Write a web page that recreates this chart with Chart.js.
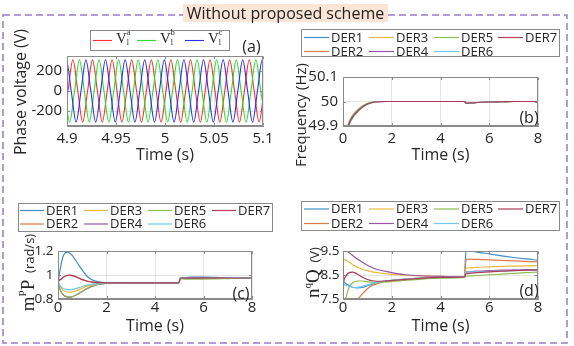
<!DOCTYPE html>
<html>
<head>
<meta charset="utf-8">
<title>Without proposed scheme</title>
<script src="https://cdn.jsdelivr.net/npm/chart.js@4.4.1/dist/chart.umd.min.js"></script>
<style>
  html, body { margin: 0; padding: 0; background: #fff; }
  #page { position: relative; width: 574px; height: 346px; overflow: hidden; }
  #page canvas, #page svg { position: absolute; }
  #heading {
    position: absolute; left: 183px; top: 4px; width: 205px; height: 18px;
    background: #fbe5d6; color: #222; font: 16px/18px "Open Sans", sans-serif;
    text-align: center; white-space: nowrap; z-index: 2;
  }
</style>
</head>
<body>
<div id="page">
  <svg width="574" height="346" style="left:0;top:0">
    <rect x="3" y="15" width="564" height="328" fill="none" stroke="#9b7bc9" stroke-width="1.5" stroke-dasharray="7 4"/>
  </svg>
  <div id="heading">Without proposed scheme</div>
  <canvas id="chartA" width="287" height="170" style="left:0;top:0"></canvas>
  <canvas id="chartB" width="287" height="170" style="left:287px;top:0"></canvas>
  <canvas id="chartC" width="287" height="176" style="left:0;top:170px"></canvas>
  <canvas id="chartD" width="287" height="176" style="left:287px;top:170px"></canvas>
</div>
<script>
/* =========================
   DATA (a) - PHASE VOLTAGE
   one point per peak / zero crossing
========================= */
const phaseLabels = ["V_l^a", "V_l^b", "V_l^c"];

const phaseATime = [
  4.896, 4.901, 4.906, 4.911, 4.916, 4.921, 4.926, 4.931, 4.936, 4.941, 4.946,
  4.951, 4.956, 4.961, 4.966, 4.971, 4.976, 4.981, 4.986, 4.991, 4.996, 5.001,
  5.006, 5.011, 5.016, 5.021, 5.026, 5.031, 5.036, 5.041, 5.046, 5.051, 5.056,
  5.061, 5.066, 5.071, 5.076, 5.081, 5.086, 5.091, 5.096, 5.101, 5.106
];
const phaseBTime = [
  4.8827, 4.8877, 4.8927, 4.8977, 4.9027, 4.9077, 4.9127, 4.9177, 4.9227, 4.9277,
  4.9327, 4.9377, 4.9427, 4.9477, 4.9527, 4.9577, 4.9627, 4.9677, 4.9727, 4.9777,
  4.9827, 4.9877, 4.9927, 4.9977, 5.0027, 5.0077, 5.0127, 5.0177, 5.0227, 5.0277,
  5.0327, 5.0377, 5.0427, 5.0477, 5.0527, 5.0577, 5.0627, 5.0677, 5.0727, 5.0777,
  5.0827, 5.0877, 5.0927, 5.0977, 5.1027
];
const phaseCTime = [
  4.8893, 4.8943, 4.8993, 4.9043, 4.9093, 4.9143, 4.9193, 4.9243, 4.9293, 4.9343,
  4.9393, 4.9443, 4.9493, 4.9543, 4.9593, 4.9643, 4.9693, 4.9743, 4.9793, 4.9843,
  4.9893, 4.9943, 4.9993, 5.0043, 5.0093, 5.0143, 5.0193, 5.0243, 5.0293, 5.0343,
  5.0393, 5.0443, 5.0493, 5.0543, 5.0593, 5.0643, 5.0693, 5.0743, 5.0793, 5.0843,
  5.0893, 5.0943, 5.0993, 5.1043
];
// every phase list starts on a trough
const phaseVolt = [
  -311, 0, 311, 0, -311, 0, 311, 0, -311, 0, 311, 0,
  -311, 0, 311, 0, -311, 0, 311, 0, -311, 0, 311, 0,
  -311, 0, 311, 0, -311, 0, 311, 0, -311, 0, 311, 0,
  -311, 0, 311, 0, -311, 0, 311, 0, -311
];
const phaseTicks = [4.9, 4.95, 5, 5.05, 5.1];
const phaseTickLabels = ["4.9", "4.95", "5", "5.05", "5.1"];
const voltTicks = [-200, 0, 200];
const voltTickLabels = ["-200", "0", "200"];

/* =========================
   DATA (b)-(d) - DER RESPONSES
========================= */
const derNames = ["DER1", "DER2", "DER3", "DER4", "DER5", "DER6", "DER7"];
const simTime = [0, 0.02, 0.1, 0.2, 0.3, 0.4, 0.5, 0.6, 0.8, 1, 1.2, 1.4, 1.7, 2, 2.5, 3, 4, 4.98, 5.05, 5.2, 5.5, 6, 6.5, 7, 7.5, 8];
const timeTicks = [0, 2, 4, 6, 8];
const timeTickLabels = ["0", "2", "4", "6", "8"];

// frequency (Hz)
const freqDER1 = [50, 49.8, 49.855, 49.892, 49.916, 49.934, 49.947, 49.958, 49.976, 49.989, 49.996, 49.999, 50, 50, 50, 50, 50, 50, 49.993, 49.994, 49.996, 49.998, 49.999, 50, 50, 50];
const freqDER2 = [50, 49.8, 49.858, 49.896, 49.92, 49.938, 49.95, 49.961, 49.978, 49.99, 49.996, 49.999, 50, 50, 50, 50, 50, 50, 49.993, 49.994, 49.996, 49.998, 49.999, 50, 50, 50];
const freqDER3 = [50, 49.8, 49.862, 49.9, 49.924, 49.941, 49.953, 49.963, 49.98, 49.991, 49.997, 49.999, 50, 50, 50, 50, 50, 50, 49.993, 49.994, 49.996, 49.998, 49.999, 50, 50, 50];
const freqDER4 = [50, 49.8, 49.86, 49.898, 49.922, 49.939, 49.951, 49.962, 49.979, 49.99, 49.996, 49.999, 50, 50, 50, 50, 50, 50, 49.993, 49.994, 49.996, 49.998, 49.999, 50, 50, 50];
const freqDER5 = [50, 49.8, 49.866, 49.904, 49.928, 49.945, 49.957, 49.967, 49.983, 49.993, 49.998, 50, 50, 50, 50, 50, 50, 50, 49.993, 49.994, 49.996, 49.998, 49.999, 50, 50, 50];
const freqDER6 = [50, 49.8, 49.857, 49.894, 49.918, 49.936, 49.949, 49.96, 49.977, 49.989, 49.996, 49.999, 50, 50, 50, 50, 50, 50, 49.993, 49.994, 49.996, 49.998, 49.999, 50, 50, 50];
const freqDER7 = [50, 49.8, 49.859, 49.897, 49.921, 49.938, 49.95, 49.961, 49.978, 49.99, 49.996, 49.999, 50, 50, 50, 50, 50, 50, 49.993, 49.994, 49.996, 49.998, 49.999, 50, 50, 50];
const freqTicks = [49.9, 50, 50.1];
const freqTickLabels = ["49.9", "50", "50.1"];

// m^P P (rad/s)
const powerDER1 = [0.94, 0.96, 1.06, 1.15, 1.185, 1.19, 1.18, 1.16, 1.1, 1.04, 0.99, 0.96, 0.942, 0.936, 0.935, 0.935, 0.935, 0.935, 0.977, 0.979, 0.982, 0.982, 0.98, 0.978, 0.977, 0.976];
const powerDER2 = [0.94, 0.945, 0.96, 0.978, 0.99, 0.996, 0.997, 0.994, 0.98, 0.963, 0.95, 0.942, 0.937, 0.935, 0.935, 0.935, 0.935, 0.935, 0.975, 0.976, 0.977, 0.977, 0.976, 0.976, 0.975, 0.975];
const powerDER3 = [0.94, 0.93, 0.9, 0.875, 0.862, 0.856, 0.855, 0.858, 0.872, 0.891, 0.907, 0.918, 0.929, 0.934, 0.935, 0.935, 0.935, 0.935, 0.972, 0.973, 0.974, 0.974, 0.975, 0.975, 0.975, 0.975];
const powerDER4 = [0.94, 0.92, 0.87, 0.837, 0.822, 0.816, 0.815, 0.819, 0.838, 0.862, 0.886, 0.905, 0.923, 0.931, 0.935, 0.935, 0.935, 0.935, 0.971, 0.971, 0.972, 0.973, 0.974, 0.974, 0.975, 0.975];
const powerDER5 = [0.94, 0.92, 0.872, 0.84, 0.825, 0.818, 0.817, 0.821, 0.84, 0.865, 0.889, 0.908, 0.925, 0.932, 0.935, 0.935, 0.935, 0.935, 0.968, 0.966, 0.965, 0.966, 0.968, 0.97, 0.972, 0.973];
const powerDER6 = [0.95, 0.94, 0.91, 0.89, 0.882, 0.878, 0.878, 0.88, 0.89, 0.904, 0.916, 0.925, 0.932, 0.935, 0.935, 0.935, 0.935, 0.935, 0.976, 0.978, 0.98, 0.98, 0.979, 0.978, 0.977, 0.976];
const powerDER7 = [0.78, 0.95, 0.963, 0.98, 0.992, 0.998, 0.999, 0.995, 0.979, 0.961, 0.948, 0.94, 0.936, 0.935, 0.935, 0.935, 0.935, 0.935, 0.975, 0.975, 0.976, 0.976, 0.976, 0.975, 0.975, 0.975];
const powerTicks = [0.8, 1, 1.2];
const powerTickLabels = ["0.8", "1", "1.2"];

// n^q Q (V)
const qDER1 = [8.25, 8.22, 8.16, 8.09, 8.03, 7.99, 7.97, 7.96, 7.98, 8.05, 8.12, 8.18, 8.24, 8.28, 8.33, 8.36, 8.4, 8.42, 9.57, 9.52, 9.45, 9.38, 9.3, 9.23, 9.17, 9.12];
const qDER2 = [6.0, 6.2, 6.5, 6.8, 7.05, 7.22, 7.36, 7.48, 7.72, 7.93, 8.06, 8.14, 8.22, 8.27, 8.32, 8.36, 8.4, 8.42, 9.15, 9.16, 9.15, 9.13, 9.11, 9.09, 9.07, 9.05];
const qDER3 = [7.4, 9.15, 9.13, 9.07, 9.0, 8.93, 8.87, 8.82, 8.74, 8.68, 8.63, 8.6, 8.56, 8.53, 8.49, 8.47, 8.44, 8.43, 8.78, 8.8, 8.82, 8.84, 8.86, 8.87, 8.88, 8.89];
const qDER4 = [7.4, 9.55, 9.53, 9.47, 9.39, 9.31, 9.23, 9.16, 9.03, 8.91, 8.81, 8.73, 8.66, 8.6, 8.52, 8.48, 8.44, 8.42, 8.62, 8.64, 8.66, 8.68, 8.7, 8.71, 8.72, 8.73];
const qDER5 = [6.5, 6.8, 7.4, 7.85, 8.07, 8.18, 8.23, 8.25, 8.25, 8.22, 8.2, 8.2, 8.21, 8.23, 8.27, 8.31, 8.37, 8.4, 8.45, 8.46, 8.48, 8.51, 8.54, 8.57, 8.6, 8.62];
const qDER6 = [8.15, 8.12, 8.08, 8.04, 8.01, 7.99, 7.98, 7.99, 8.03, 8.09, 8.15, 8.2, 8.25, 8.28, 8.32, 8.36, 8.4, 8.42, 8.62, 8.63, 8.64, 8.65, 8.67, 8.68, 8.69, 8.7];
const qDER7 = [7.4, 8.1, 8.42, 8.56, 8.61, 8.62, 8.59, 8.53, 8.41, 8.31, 8.26, 8.24, 8.25, 8.27, 8.31, 8.35, 8.4, 8.42, 8.55, 8.57, 8.6, 8.63, 8.66, 8.68, 8.7, 8.71];
const qTicks = [7.5, 8.5, 9.5];
const qTickLabels = ["7.5", "8.5", "9.5"];

/* =========================
   STYLE
========================= */
const SANS = '"Open Sans", sans-serif';
const SERIF = '"Liberation Serif", serif';
const TEXT = "#262626";
const AXIS = "#8a8a8a";
const GRID = "rgba(0,0,0,0.1)";
const phaseColors = ["rgb(255,45,45)", "rgb(40,225,40)", "rgb(45,45,255)"];
const derColors = ["#3d8fcf", "#e07a4a", "#ecb93f", "#9a52a9", "#8cbf4f", "#6ccaf0", "#b23a55"];

Chart.defaults.font.family = SANS;
Chart.defaults.color = TEXT;

/* =========================
   PLUGINS
========================= */
// axes box on all four sides, with short inward ticks
const axisBox = {
  id: "axisBox",
  afterDraw(chart) {
    const { ctx, chartArea: a, scales } = chart;
    const l = Math.round(a.left) + 0.5, r = Math.round(a.right) - 0.5;
    const t = Math.round(a.top) + 0.5, b = Math.round(a.bottom) - 0.5;
    ctx.save();
    ctx.strokeStyle = AXIS;
    ctx.lineWidth = 1;
    ctx.strokeRect(l, t, r - l, b - t);
    ctx.beginPath();
    scales.x.ticks.forEach(tk => {
      const px = Math.round(scales.x.getPixelForValue(tk.value)) + 0.5;
      ctx.moveTo(px, b); ctx.lineTo(px, b - 2.5);
      ctx.moveTo(px, t); ctx.lineTo(px, t + 2.5);
    });
    scales.y.ticks.forEach(tk => {
      const py = Math.round(scales.y.getPixelForValue(tk.value)) + 0.5;
      ctx.moveTo(l, py); ctx.lineTo(l + 2.5, py);
      ctx.moveTo(r, py); ctx.lineTo(r - 2.5, py);
    });
    ctx.stroke();
    ctx.restore();
  }
};

function drawLegendLabel(ctx, label, x, y) {
  ctx.fillStyle = TEXT;
  ctx.textAlign = "left";
  const m = label.match(/^(.+)_(.)\^(.)$/);
  if (!m) {
    ctx.font = "13px " + SANS;
    ctx.textBaseline = "middle";
    ctx.fillText(label, x, y + 0.5);
    return;
  }
  ctx.textBaseline = "alphabetic";
  ctx.font = "15px " + SERIF;
  ctx.fillText(m[1], x, y + 2);
  const w = ctx.measureText(m[1]).width;
  ctx.font = "8px " + SERIF;
  ctx.fillText(m[2], x + w, y + 4.5);
  ctx.fillText(m[3], x + w, y - 5.5);
}

// boxed legend, filled column by column like MATLAB NumColumns
const boxLegend = {
  id: "boxLegend",
  afterDraw(chart, args, opts) {
    if (!opts || !opts.box) return;
    const ctx = chart.ctx;
    const [bx, by, bw, bh] = opts.box;
    ctx.save();
    ctx.fillStyle = "#fff";
    ctx.fillRect(bx, by, bw, bh);
    ctx.strokeStyle = AXIS;
    ctx.lineWidth = 1;
    ctx.strokeRect(bx + 0.5, by + 0.5, bw - 1, bh - 1);
    chart.data.datasets.forEach((ds, i) => {
      const x = opts.colX[Math.floor(i / opts.rows)];
      const y = opts.rowY[i % opts.rows];
      ctx.strokeStyle = ds.borderColor;
      ctx.lineWidth = ds.borderWidth;
      ctx.beginPath();
      ctx.moveTo(x, y);
      ctx.lineTo(x + opts.lineLen, y);
      ctx.stroke();
      drawLegendLabel(ctx, ds.label, x + opts.lineLen + opts.gap, y);
    });
    ctx.restore();
  }
};

// free texts: y titles (with superscripts) and panel letters
const panelText = {
  id: "panelText",
  afterDraw(chart, args, opts) {
    if (!opts || !opts.items) return;
    const ctx = chart.ctx;
    opts.items.forEach(item => {
      ctx.save();
      ctx.translate(item.x, item.y);
      if (item.rotate) ctx.rotate(-Math.PI / 2);
      ctx.fillStyle = TEXT;
      ctx.textAlign = "left";
      ctx.textBaseline = item.baseline || "alphabetic";
      let total = 0;
      item.parts.forEach(p => { ctx.font = p.font; total += ctx.measureText(p.t).width; });
      let cx = -total / 2;
      item.parts.forEach(p => {
        ctx.font = p.font;
        ctx.fillText(p.t, cx, p.dy || 0);
        cx += ctx.measureText(p.t).width;
      });
      ctx.restore();
    });
  }
};

Chart.register(axisBox, boxLegend, panelText);

/* =========================
   CHART BUILDER
========================= */
function makeChart(id, p) {
  return new Chart(document.getElementById(id), {
    type: "line",
    data: { datasets: p.datasets },
    options: {
      responsive: false,
      animation: false,
      events: [],
      layout: { padding: { left: 0, top: p.top, right: p.right, bottom: 0 } },
      elements: { point: { radius: 0 }, line: { cubicInterpolationMode: "monotone" } },
      plugins: {
        legend: { display: false },
        tooltip: { enabled: false },
        boxLegend: p.legend,
        panelText: { items: p.texts }
      },
      scales: {
        x: {
          type: "linear",
          min: p.xTicks[0],
          max: p.xTicks[p.xTicks.length - 1],
          afterBuildTicks: s => { s.ticks = p.xTicks.map(v => ({ value: v })); },
          afterFit: s => { s.height = p.xHeight; },
          ticks: {
            autoSkip: false, maxRotation: 0, padding: p.xPad,
            font: { size: 15 }, color: TEXT,
            callback: (v, i) => p.xLabels[i]
          },
          grid: { color: GRID, drawTicks: false },
          border: { color: AXIS },
          title: {
            display: true, text: "Time (s)", color: TEXT,
            font: { size: 16 }, padding: { top: 0, bottom: p.titlePad }
          }
        },
        y: {
          type: "linear",
          min: p.yMin,
          max: p.yMax,
          afterBuildTicks: s => { s.ticks = p.yTicks.map(v => ({ value: v })); },
          afterFit: s => { s.width = p.left; },
          ticks: {
            padding: p.yPad, font: { size: p.yTickSize }, color: TEXT,
            callback: (v, i) => p.yLabels[i]
          },
          grid: { color: GRID, drawTicks: false },
          border: { color: AXIS }
        }
      }
    }
  });
}

function derDatasets(series) {
  return series.map((vals, i) => ({
    label: derNames[i],
    data: simTime.map((t, k) => ({ x: t, y: vals[k] })),
    borderColor: derColors[i],
    borderWidth: 1.2,
    order: series.length - i
  }));
}

const derLegendCols = [17, 82, 147, 211];

/* =========================
   (a) PHASE VOLTAGE
========================= */
const phaseTimes = [phaseATime, phaseBTime, phaseCTime];
makeChart("chartA", {
  datasets: phaseTimes.map((times, i) => ({
    label: phaseLabels[i],
    data: times.map((t, k) => ({ x: t, y: phaseVolt[k] })),
    borderColor: phaseColors[i],
    borderWidth: 1.1,
    order: 3 - i
  })),
  top: 56, right: 24, left: 67, xHeight: 44, xPad: 3.5, titlePad: 5.4, yPad: 5, yTickSize: 15,
  xTicks: phaseTicks, xLabels: phaseTickLabels,
  yMin: -350, yMax: 350, yTicks: voltTicks, yLabels: voltTickLabels,
  legend: { box: [90, 30, 140, 21], rows: 1, colX: [93, 137, 185], rowY: [40.5], lineLen: 19, gap: 4 },
  texts: [
    { x: 26, y: 92, rotate: true, parts: [{ t: "Phase voltage (V)", font: "16px " + SANS }] },
    { x: 251.5, y: 47.5, baseline: "middle", parts: [{ t: "(a)", font: "16px " + SANS }] }
  ]
});

/* =========================
   (b) FREQUENCY
========================= */
makeChart("chartB", {
  datasets: derDatasets([freqDER1, freqDER2, freqDER3, freqDER4, freqDER5, freqDER6, freqDER7]),
  top: 77, right: 36, left: 56, xHeight: 44, xPad: 3.5, titlePad: 5.4, yPad: 5, yTickSize: 15,
  xTicks: timeTicks, xLabels: timeTickLabels,
  yMin: 49.9, yMax: 50.1, yTicks: freqTicks, yLabels: freqTickLabels,
  legend: { box: [14, 29, 259, 28], rows: 2, colX: derLegendCols, rowY: [37.5, 51.5], lineLen: 25, gap: 2 },
  texts: [
    { x: 18.5, y: 115, rotate: true, parts: [{ t: "Frequency (Hz)", font: "15px " + SANS }] },
    { x: 242, y: 118.5, baseline: "middle", parts: [{ t: "(b)", font: "16px " + SANS }] }
  ]
});

/* =========================
   (c) ACTIVE POWER TERM
========================= */
makeChart("chartC", {
  datasets: derDatasets([powerDER1, powerDER2, powerDER3, powerDER4, powerDER5, powerDER6, powerDER7]),
  top: 81, right: 35, left: 58, xHeight: 47, xPad: 0, titlePad: 9.7, yPad: 4.5, yTickSize: 13.5,
  xTicks: timeTicks, xLabels: timeTickLabels,
  yMin: 0.8, yMax: 1.2, yTicks: powerTicks, yLabels: powerTickLabels,
  legend: { box: [18, 33, 255, 29], rows: 2, colX: [20, 84, 148, 212], rowY: [40.5, 54], lineLen: 24, gap: 2 },
  texts: [
    { x: 34, y: 102.5, rotate: true, parts: [
      { t: "m", font: "19px " + SERIF },
      { t: "P", font: "11px " + SERIF, dy: -8 },
      { t: "P", font: "19px " + SERIF },
      { t: "  (rad/s)", font: "13px " + SANS }
    ] },
    { x: 241, y: 124, baseline: "middle", parts: [{ t: "(c)", font: "16px " + SANS }] }
  ]
});

/* =========================
   (d) REACTIVE POWER TERM
========================= */
makeChart("chartD", {
  datasets: derDatasets([qDER1, qDER2, qDER3, qDER4, qDER5, qDER6, qDER7]),
  top: 81, right: 36, left: 56, xHeight: 47, xPad: 0, titlePad: 9.7, yPad: 3.5, yTickSize: 13.5,
  xTicks: timeTicks, xLabels: timeTickLabels,
  yMin: 7.5, yMax: 9.5, yTicks: qTicks, yLabels: qTickLabels,
  legend: { box: [14, 31, 259, 30], rows: 2, colX: derLegendCols, rowY: [39, 53.5], lineLen: 25, gap: 2 },
  texts: [
    { x: 32, y: 102.5, rotate: true, parts: [
      { t: "n", font: "19px " + SERIF },
      { t: "q", font: "11px " + SERIF, dy: -8 },
      { t: "Q", font: "19px " + SERIF },
      { t: "  (V)", font: "13px " + SANS }
    ] },
    { x: 242, y: 121.5, baseline: "middle", parts: [{ t: "(d)", font: "16px " + SANS }] }
  ]
});
</script>
</body>
</html>
